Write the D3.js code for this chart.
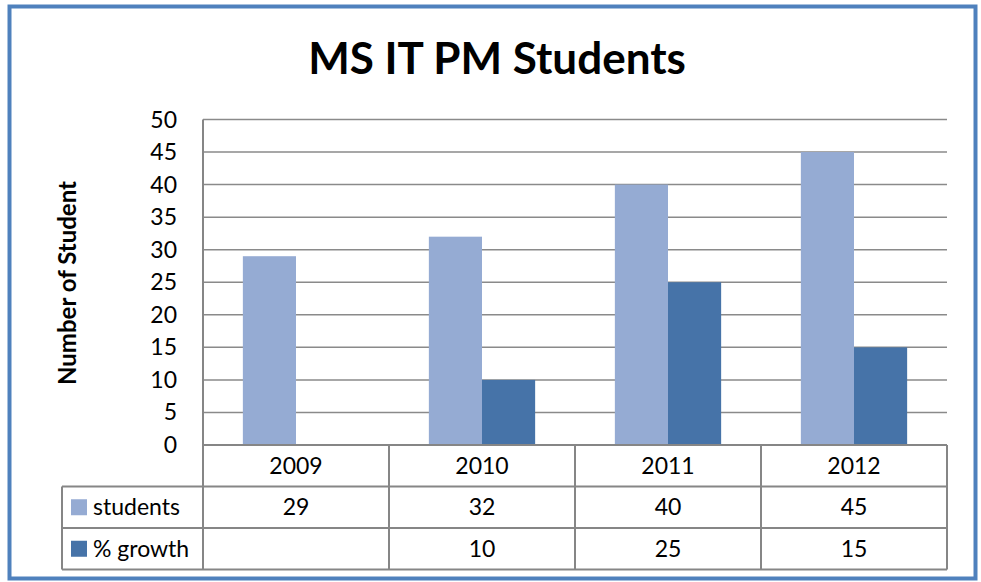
<!DOCTYPE html>
<html lang="en">
<head>
  <meta charset="UTF-8">
  <title>MS IT PM Students</title>
  <style>
    body { margin: 0; background: #fff; }
    text { font-family: Lato, "Open Sans", sans-serif; fill: #000; }
  </style>
</head>
<script src="https://d3js.org/d3.v7.min.js"></script>
<body>
  <div id="chart"></div>
</body>
<script>
  const years = ['2009', '2010', '2011', '2012'];
  const students = [29, 32, 40, 45];
  const growth = [null, 10, 25, 15];
  const seriesNames = ['students', '% growth'];
  const seriesColors = ['#95abd3', '#4673a8'];
  const yTicks = [0, 5, 10, 15, 20, 25, 30, 35, 40, 45, 50];

  const w = 981, h = 582;
  const plotLeft = 203, plotRight = 947, plotTop = 119.5, plotBottom = 445;
  const rowH = 41.5, legendLeft = 62;
  const fs = '23px';

  const svg = d3.select('#chart').append('svg')
    .attr('width', w)
    .attr('height', h);

  // outer frame
  svg.append('rect')
    .attr('x', 9.5).attr('y', 6.5)
    .attr('width', 966).attr('height', 572)
    .attr('fill', 'none')
    .attr('stroke', '#4f81bd')
    .attr('stroke-width', 4);

  svg.append('text')
    .attr('x', 497).attr('y', 74)
    .attr('text-anchor', 'middle')
    .style('font-size', '44px')
    .style('font-weight', 'bold')
    .text('MS IT PM Students');

  const x = d3.scaleBand().domain(years).range([plotLeft, plotRight]);
  const y = d3.scaleLinear().domain([0, 50]).range([plotBottom, plotTop]);
  const inner = d3.scaleBand().domain(seriesNames).range([0, x.bandwidth()]).paddingOuter(0.75);

  // grid lines
  svg.append('g').selectAll('line')
    .data(yTicks)
    .enter().append('line')
    .attr('x1', plotLeft).attr('x2', plotRight)
    .attr('y1', d => y(d)).attr('y2', d => y(d))
    .attr('stroke', '#8a8a8a')
    .attr('stroke-width', 1.5);

  // y tick labels
  svg.append('g').selectAll('text')
    .data(yTicks)
    .enter().append('text')
    .attr('x', 177)
    .attr('y', d => y(d) + 8)
    .attr('text-anchor', 'end')
    .style('font-size', fs)
    .text(d => d);

  svg.append('text')
    .attr('transform', 'translate(76,283) rotate(-90)')
    .attr('text-anchor', 'middle')
    .style('font-size', '24px')
    .style('font-weight', 'bold')
    .text('Number of Student');

  // bars
  const series = [students, growth];
  series.forEach((vals, si) => {
    svg.append('g').selectAll('rect')
      .data(years.map((yr, i) => ({ yr, v: vals[i] })).filter(d => d.v != null))
      .enter().append('rect')
      .attr('x', d => x(d.yr) + inner(seriesNames[si]))
      .attr('width', inner.bandwidth())
      .attr('y', d => y(d.v))
      .attr('height', d => plotBottom - y(d.v))
      .attr('fill', seriesColors[si]);
  });

  // data table
  const tbl = svg.append('g')
    .attr('stroke', '#868686')
    .attr('stroke-width', 2)
    .attr('fill', 'none');

  // horizontal lines
  tbl.append('line').attr('x1', plotLeft).attr('x2', plotRight).attr('y1', plotBottom).attr('y2', plotBottom);
  [1, 2, 3].forEach(r => {
    tbl.append('line')
      .attr('x1', legendLeft).attr('x2', plotRight)
      .attr('y1', plotBottom + r * rowH).attr('y2', plotBottom + r * rowH);
  });
  // vertical lines
  years.forEach(yr => {
    tbl.append('line').attr('x1', x(yr)).attr('x2', x(yr)).attr('y1', plotBottom).attr('y2', plotBottom + 3 * rowH);
  });
  tbl.append('line').attr('x1', plotRight).attr('x2', plotRight).attr('y1', plotBottom).attr('y2', plotBottom + 3 * rowH);
  tbl.append('line').attr('x1', plotLeft).attr('x2', plotLeft).attr('y1', plotTop).attr('y2', plotBottom);
  tbl.append('line').attr('x1', legendLeft).attr('x2', legendLeft).attr('y1', plotBottom + rowH).attr('y2', plotBottom + 3 * rowH);

  // category labels
  svg.append('g').selectAll('text')
    .data(years)
    .enter().append('text')
    .attr('x', d => x(d) + x.bandwidth() / 2)
    .attr('y', plotBottom + rowH / 2 + 8)
    .attr('text-anchor', 'middle')
    .style('font-size', fs)
    .text(d => d);

  // series rows
  series.forEach((vals, si) => {
    const cy = plotBottom + rowH * (si + 1) + rowH / 2;
    svg.append('rect')
      .attr('x', 71).attr('y', cy - 8)
      .attr('width', 16).attr('height', 16)
      .attr('fill', seriesColors[si]);
    svg.append('text')
      .attr('x', 93).attr('y', cy + 8)
      .style('font-size', fs)
      .text(seriesNames[si]);
    svg.append('g').selectAll('text')
      .data(years.map((yr, i) => ({ yr, v: vals[i] })).filter(d => d.v != null))
      .enter().append('text')
      .attr('x', d => x(d.yr) + x.bandwidth() / 2)
      .attr('y', cy + 8)
      .attr('text-anchor', 'middle')
      .style('font-size', fs)
      .text(d => d.v);
  });
</script>
</html>
